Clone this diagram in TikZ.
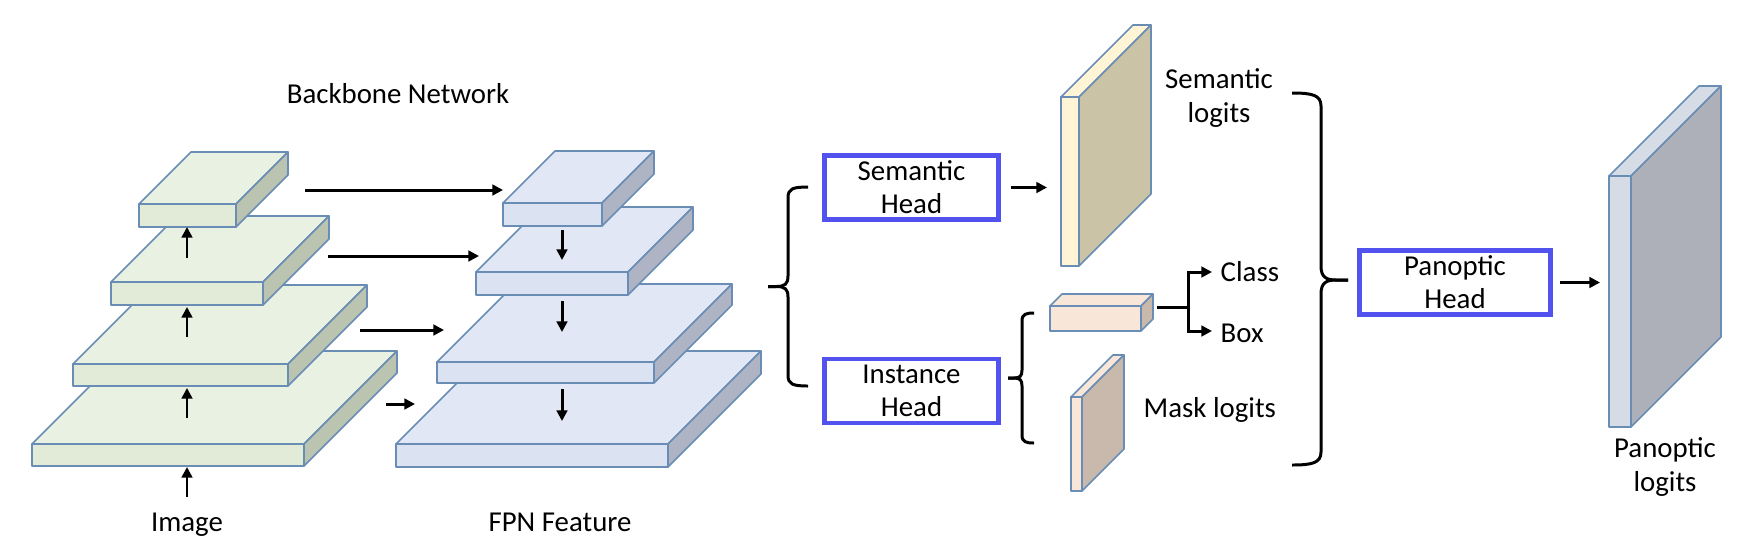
\documentclass[tikz,border=0pt]{standalone}
\usepackage{fontspec}
\setmainfont{Carlito}
\usetikzlibrary{arrows.meta}
\definecolor{gfront}{HTML}{E2EBD8}
\definecolor{gtop}{HTML}{E9F1E2}
\definecolor{gside}{HTML}{BBC4B0}
\definecolor{bfront}{HTML}{DBE2F1}
\definecolor{btop}{HTML}{E1E7F4}
\definecolor{bside}{HTML}{AEB4C3}
\definecolor{edgec}{HTML}{6A8DB5}
\definecolor{headblue}{HTML}{5252EE}
\definecolor{yfront}{HTML}{FFF5D6}
\definecolor{yside}{HTML}{CBC3A6}
\definecolor{pfront}{HTML}{F8E6D9}
\definecolor{pside}{HTML}{C9B9AC}
\definecolor{qfront}{HTML}{D6DCE6}
\definecolor{qside}{HTML}{ADB0B8}
% name, x1, y1, x2, y2, depth, front, top, side
\newcommand{\slab}[9]{%
  \filldraw[slabline,fill=#8] (#2,#3) -- (#2+#6,#3-#6) -- (#4+#6,#3-#6) -- (#4,#3) -- cycle;
  \filldraw[slabline,fill=#9] (#4,#3) -- (#4+#6,#3-#6) -- (#4+#6,#5-#6) -- (#4,#5) -- cycle;
  \filldraw[slabline,fill=#7] (#2,#3) rectangle (#4,#5);
  \coordinate (#1) at ({(#2+#4)/2},{(#3+#5)/2});
}
\begin{document}
\begin{tikzpicture}[x=0.01cm,y=-0.01cm,
  slabline/.style={draw=edgec,line width=0.45pt,line join=round},
  arr/.style={line width=0.85pt,-{Triangle[length=3pt,width=3pt]}},
  bracel/.style={line width=0.85pt},
  headbox/.style={draw=headblue,line width=1.4pt,minimum height=0.64cm,align=center,inner sep=0pt,
    font=\fontsize{8.2}{9.4}\selectfont},
  lbl/.style={font=\fontsize{8.2}{9.4}\selectfont,inner sep=0pt,align=center}]
\useasboundingbox (0,0) rectangle (1748,554);
\fill[white] (0,0) rectangle (1748,554);

% backbone (green) pyramid
\slab{g1}{32}{444}{304}{466}{93}{gfront}{gtop}{gside}
\slab{g2}{73}{364}{288}{386}{79}{gfront}{gtop}{gside}
\slab{g3}{111}{282}{263}{305}{66}{gfront}{gtop}{gside}
\slab{g4}{139}{204}{236}{227}{52}{gfront}{gtop}{gside}

% FPN (blue) pyramid
\slab{b1}{396}{444}{668}{467}{93}{bfront}{btop}{bside}
\slab{b2}{437}{362}{654}{383}{78}{bfront}{btop}{bside}
\slab{b3}{476}{272}{628}{295}{65}{bfront}{btop}{bside}
\slab{b4}{503}{203}{602}{226}{52}{bfront}{btop}{bside}

% output slabs
\slab{slog}{1061}{97}{1079}{266}{72}{yfront}{yfront}{yside}
\slab{cbox}{1050}{306}{1141}{331}{12}{pfront}{pfront}{pside}
\slab{mlog}{1071}{397}{1082}{491}{42}{pfront}{pfront}{pside}
\slab{plog}{1609}{176}{1631}{427}{90}{qfront}{qfront}{qside}

% labels
\node[lbl,anchor=base] (bbn) at (398,103) {Backbone Network};
\node[lbl,anchor=base] (img) at (187,531) {Image};
\node[lbl,anchor=base] (fpn) at (560,531) {FPN Feature};
\node[lbl] (sltxt) at (1219,98) {Semantic\\logits};
\node[lbl,anchor=base west] (cls) at (1220,281) {Class};
\node[lbl,anchor=base west] (boxt) at (1220,342) {Box};
\node[lbl,anchor=base west] (mtxt) at (1143,417) {Mask logits};
\node[lbl] (pltxt) at (1665,467) {Panoptic\\logits};

% heads
\node[headbox,minimum width=1.74cm] (sh) at (911.5,187.5) {Semantic\\Head};
\node[headbox,minimum width=1.74cm] (ih) at (911.5,391) {Instance\\Head};
\node[headbox,minimum width=1.91cm] (ph) at (1455,282.5) {Panoptic\\Head};

% arrow end points
\coordinate (u0a) at (187,497); \coordinate (u0b) at (187,467);
\coordinate (u1a) at (187,418); \coordinate (u1b) at (187,388);
\coordinate (u2a) at (187,337); \coordinate (u2b) at (187,307);
\coordinate (u3a) at (187,258); \coordinate (u3b) at (187,227);
\coordinate (l4a) at (305,190); \coordinate (l4b) at (503,190);
\coordinate (l3a) at (328,256); \coordinate (l3b) at (479,256);
\coordinate (l2a) at (360,330); \coordinate (l2b) at (444,330);
\coordinate (l1a) at (386,404); \coordinate (l1b) at (415,404);
\coordinate (d3a) at (562,230); \coordinate (d3b) at (562,260);
\coordinate (d2a) at (562,301); \coordinate (d2b) at (562,332);
\coordinate (d1a) at (562,389); \coordinate (d1b) at (562,421);
\coordinate (slin) at (1047,187.5);
\coordinate (plin) at (1600,282.5);
\coordinate (cbout) at (1157,307);
\coordinate (fork) at (1188,307);
\coordinate (clsin) at (1212,272);
\coordinate (boxin) at (1212,331);

% backbone / FPN arrows
\foreach \s in {u0,u1,u2,u3,l4,l3,l2,l1,d3,d2,d1}
  \draw[arr] (\s a) -- (\s b);

% head arrows
\draw[arr,shorten <=0.095cm] (sh.east) -- (slin);
\draw[arr,shorten <=0.065cm] (ph.east) -- (plin);

% class / box fork
\draw[line width=0.85pt] (cbout) -- (fork);
\draw[arr] (fork) |- (clsin);
\draw[arr] (fork) |- (boxin);

% brace: FPN -> heads
\coordinate (bt1) at (808,187); \coordinate (bb1) at (808,386); \coordinate (bm1) at (768,286.5);
\draw[bracel] (bt1) .. controls (792,187) and (788,189) .. (788,198) -- (788,276)
  .. controls (788,284) and (785,286.5) .. (776,286.5) -- (bm1);
\draw[bracel] (bm1) -- (776,286.5) .. controls (785,286.5) and (788,289) .. (788,297)
  -- (788,375) .. controls (788,384) and (792,386) .. (bb1);

% brace: instance head -> outputs
\coordinate (bt2) at (1034,313); \coordinate (bb2) at (1034,443); \coordinate (bm2) at (1008,378);
\draw[bracel] (bt2) .. controls (1026,313) and (1022,314) .. (1022,321) -- (1022,370)
  .. controls (1022,376) and (1020,378) .. (1014,378) -- (bm2);
\draw[bracel] (bm2) -- (1014,378) .. controls (1020,378) and (1022,380) .. (1022,386)
  -- (1022,435) .. controls (1022,442) and (1026,443) .. (bb2);

% brace: outputs -> panoptic head
\coordinate (bt3) at (1292,93); \coordinate (bb3) at (1292,465); \coordinate (bm3) at (1348,280);
\draw[bracel] (bt3) .. controls (1312,93) and (1321,95) .. (1321,106) -- (1321,266)
  .. controls (1321,277) and (1326,280) .. (1336,280) -- (bm3);
\draw[bracel] (bm3) -- (1336,280) .. controls (1326,280) and (1321,283) .. (1321,294)
  -- (1321,452) .. controls (1321,463) and (1312,465) .. (bb3);
\end{tikzpicture}
\end{document}
